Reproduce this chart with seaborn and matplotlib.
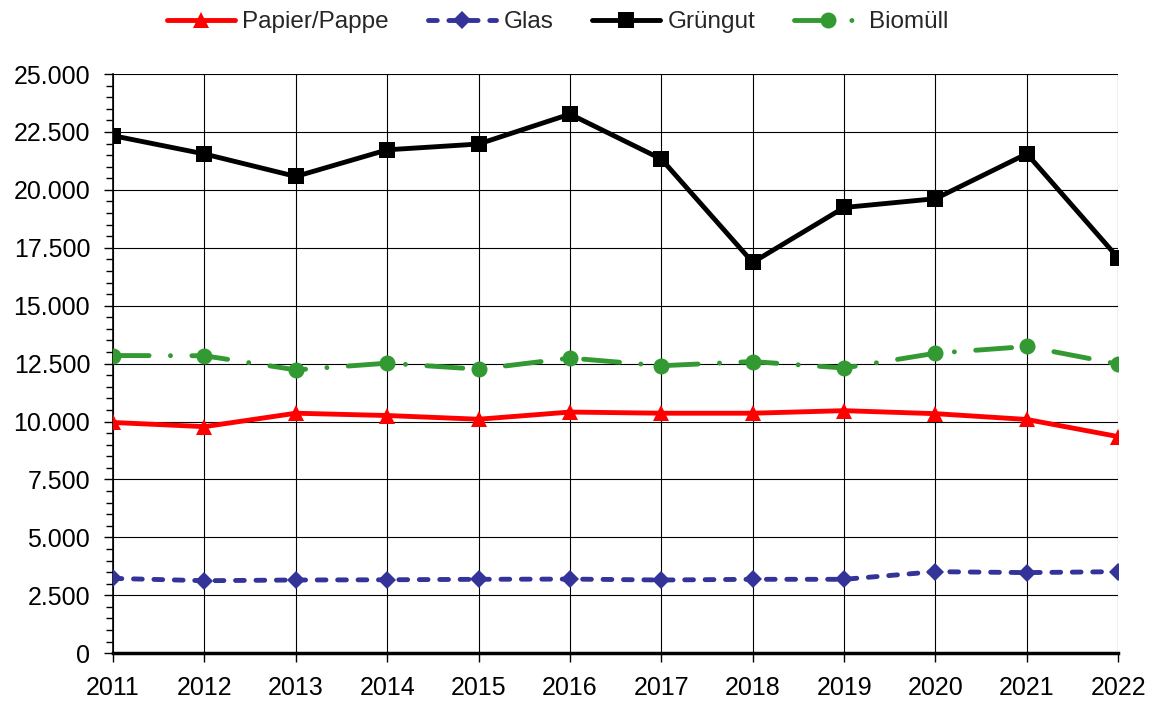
import pandas as pd
import matplotlib
matplotlib.use("Agg")
import matplotlib.pyplot as plt
from matplotlib.ticker import FuncFormatter, MultipleLocator
import seaborn as sns

# Data
years = [2011, 2012, 2013, 2014, 2015, 2016, 2017, 2018, 2019, 2020, 2021, 2022]
papier = [9960, 9780, 10360, 10260, 10100, 10410, 10360, 10360, 10470, 10340, 10090, 9350]
glas = [3230, 3130, 3160, 3170, 3190, 3200, 3160, 3190, 3190, 3520, 3480, 3520]
gruengut = [22340, 21550, 20580, 21730, 21980, 23270, 21330, 16870, 19240, 19620, 21560, 17060]
biomuell = [12850, 12840, 12230, 12520, 12260, 12740, 12410, 12590, 12310, 12950, 13240, 12480]

series_names = ["Papier/Pappe", "Glas", "Grüngut", "Biomüll"]
series_values = [papier, glas, gruengut, biomuell]
colors = ["#ff0000", "#333399", "#000000", "#339933"]
markers = ["^", "D", "s", "o"]
marker_sizes = [11, 9.5, 11.5, 11.5]
dash_styles = [None, (1.8, 2.4), None, (7.4, 4.4, 0.01, 4.4)]

sns.set_theme(style="white")
plt.rcParams["font.family"] = ["Liberation Sans", "DejaVu Sans"]

fig = plt.figure(figsize=(11.54, 7.02), dpi=100)
ax = fig.add_axes([0.098, 0.0695, 0.871, 0.825])

for name, vals, col, mk, ms, dash in zip(series_names, series_values, colors,
                                         markers, marker_sizes, dash_styles):
    sns.lineplot(x=years, y=vals, ax=ax, color=col, marker=mk, markersize=ms,
                 markeredgecolor=col, markeredgewidth=0, linewidth=3.5,
                 label=name, zorder=3)
    line = ax.lines[-1]
    if dash is not None:
        line.set_dashes(dash)
        line.set_dash_capstyle("round")

ax.set_xlim(2011, 2022)
ax.set_ylim(0, 25000)
ax.set_xticks(years)
ax.yaxis.set_major_locator(MultipleLocator(2500))
ax.yaxis.set_minor_locator(MultipleLocator(500))
ax.yaxis.set_major_formatter(FuncFormatter(lambda v, p: f"{int(v):,}".replace(",", ".")))

ax.grid(True, which="major", color="black", linewidth=0.8)
ax.set_axisbelow(True)
for s in ["top", "right"]:
    ax.spines[s].set_visible(False)
ax.spines["left"].set_color("black")
ax.spines["left"].set_linewidth(1.2)
ax.spines["bottom"].set_color("black")
ax.spines["bottom"].set_linewidth(2.5)
ax.spines["bottom"].set_zorder(4)

ax.tick_params(axis="both", which="major", direction="out", length=6.5, width=1,
               color="black", labelsize=18, labelcolor="black", left=True, bottom=True)
ax.tick_params(axis="y", which="minor", direction="out", length=5, width=1,
               color="black", left=True)
ax.tick_params(axis="x", which="major", pad=10)
ax.tick_params(axis="y", which="major", pad=10)
ax.set_xlabel("")
ax.set_ylabel("")

ax.legend(loc="center", bbox_to_anchor=(0.4835, 0.968), bbox_transform=fig.transFigure,
          ncol=4, frameon=False, fontsize=17.5, handlelength=2.8,
          handletextpad=0.3, columnspacing=1.6)

fig.savefig("out.png", dpi=100)
